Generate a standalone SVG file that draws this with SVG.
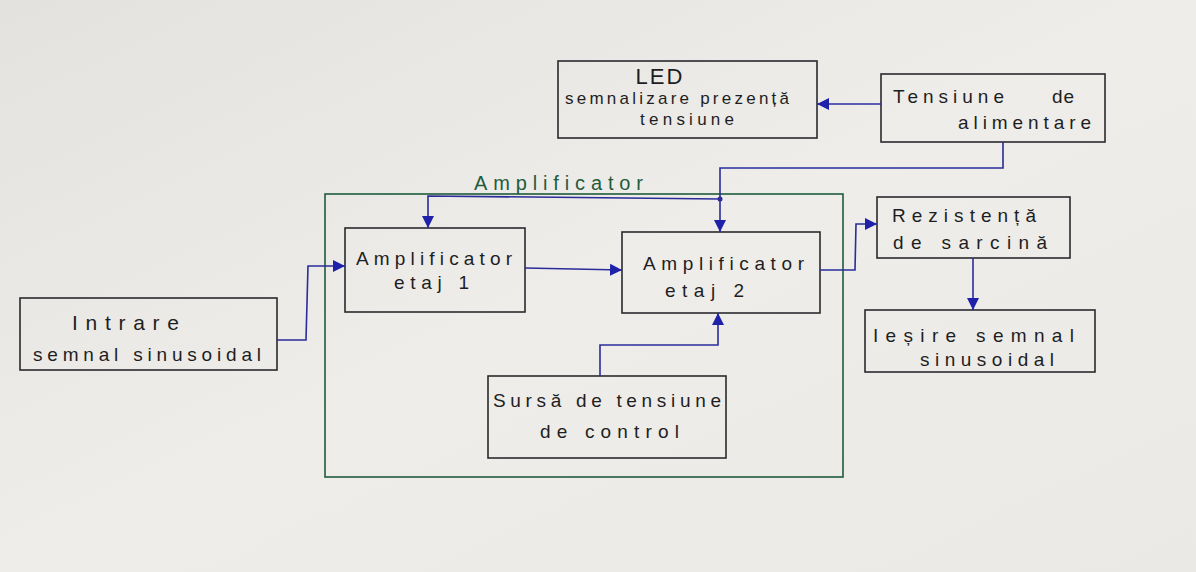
<svg xmlns="http://www.w3.org/2000/svg" width="1196" height="572" viewBox="0 0 1196 572">
<defs>
<linearGradient id="paper" x1="0" y1="0" x2="1" y2="1">
<stop offset="0" stop-color="#e4e2de"/>
<stop offset="0.5" stop-color="#eeedea"/>
<stop offset="1" stop-color="#ebe9e5"/>
</linearGradient>
<marker id="ah" viewBox="0 0 10 10" refX="10" refY="5" markerWidth="12" markerHeight="12" markerUnits="userSpaceOnUse" orient="auto">
<path d="M0,0 L10,5 L0,10 z" fill="#1f22a8"/>
</marker>
<style>
.box{fill:none;stroke:#2a2a2e;stroke-width:1.6}
.frame{fill:none;stroke:#1f5c3c;stroke-width:1.6}
.t{font-family:"Liberation Sans",Arial,sans-serif;font-size:19px;fill:#1e1e22;letter-spacing:1px}
.lab{font-family:"Liberation Sans",Arial,sans-serif;font-size:20px;fill:#1f5c3c;letter-spacing:3px}
.c{fill:none;stroke:#2a2c9a;stroke-width:1.6}
.ca{fill:none;stroke:#2a2c9a;stroke-width:1.6;marker-end:url(#ah)}
</style>
</defs>
<rect width="1196" height="572" fill="url(#paper)"/>

<g id="amplificator-frame">
<rect class="frame" x="325" y="194" width="518" height="283"/>
<text class="lab" x="474" y="190" textLength="172" lengthAdjust="spacing">Amplificator</text>
</g>

<g id="led">
<rect class="box" x="558" y="61" width="259" height="77"/>
<text class="t" x="660" y="84" text-anchor="middle" style="font-size:22px;letter-spacing:2px">LED</text>
<text class="t" x="565" y="104" textLength="225" lengthAdjust="spacing" style="font-size:17px">semnalizare prezență</text>
<text class="t" x="640" y="125" textLength="95" lengthAdjust="spacing" style="font-size:17px">tensiune</text>
</g>

<g id="tensiune-alimentare">
<rect class="box" x="881" y="74" width="224" height="68"/>
<text class="t" x="893" y="103" textLength="112" lengthAdjust="spacing">Tensiune</text>
<text class="t" x="1052" y="103">de</text>
<text class="t" x="958" y="129" textLength="134" lengthAdjust="spacing">alimentare</text>
</g>

<g id="intrare">
<rect class="box" x="20" y="298" width="257" height="72"/>
<text class="t" x="72" y="330" textLength="108" lengthAdjust="spacing" style="font-size:21px">Intrare</text>
<text class="t" x="33" y="361" textLength="229" lengthAdjust="spacing">semnal sinusoidal</text>
</g>

<g id="amp1">
<rect class="box" x="345" y="228" width="180" height="84"/>
<text class="t" x="356" y="265" textLength="157" lengthAdjust="spacing">Amplificator</text>
<text class="t" x="394" y="289" textLength="76" lengthAdjust="spacing">etaj  1</text>
</g>

<g id="amp2">
<rect class="box" x="622" y="232" width="198" height="81"/>
<text class="t" x="643" y="270" textLength="162" lengthAdjust="spacing">Amplificator</text>
<text class="t" x="665" y="297" textLength="80" lengthAdjust="spacing">etaj  2</text>
</g>

<g id="rezistenta">
<rect class="box" x="877" y="197" width="193" height="61"/>
<text class="t" x="892" y="222" textLength="145" lengthAdjust="spacing">Rezistență</text>
<text class="t" x="893" y="249" textLength="155" lengthAdjust="spacing">de sarcină</text>
</g>

<g id="iesire">
<rect class="box" x="865" y="310" width="230" height="62"/>
<text class="t" x="873" y="342" textLength="202" lengthAdjust="spacing">Ieșire  semnal</text>
<text class="t" x="920" y="366" textLength="135" lengthAdjust="spacing">sinusoidal</text>
</g>

<g id="sursa">
<rect class="box" x="488" y="376" width="238" height="82"/>
<text class="t" x="493" y="407" textLength="229" lengthAdjust="spacing">Sursă de tensiune</text>
<text class="t" x="540" y="438" textLength="140" lengthAdjust="spacing">de control</text>
</g>

<g id="connectors">
<path class="ca" d="M881,104 L817,104"/>
<path class="ca" d="M1003,142 L1003,168 L720,168 L720,232"/>
<path class="ca" d="M720,199 L428,196 L428,228"/>
<circle cx="720" cy="199" r="2.5" fill="#2a2c9a"/>
<path class="ca" d="M277,340 L306,340 L308,266 L345,266"/>
<path class="ca" d="M525,268 L622,270"/>
<path class="ca" d="M820,270 L855,270 L856,224 L877,224"/>
<path class="ca" d="M973,258 L973,310"/>
<path class="ca" d="M600,376 L600,345 L718,345 L718,313"/>
</g>
</svg>
